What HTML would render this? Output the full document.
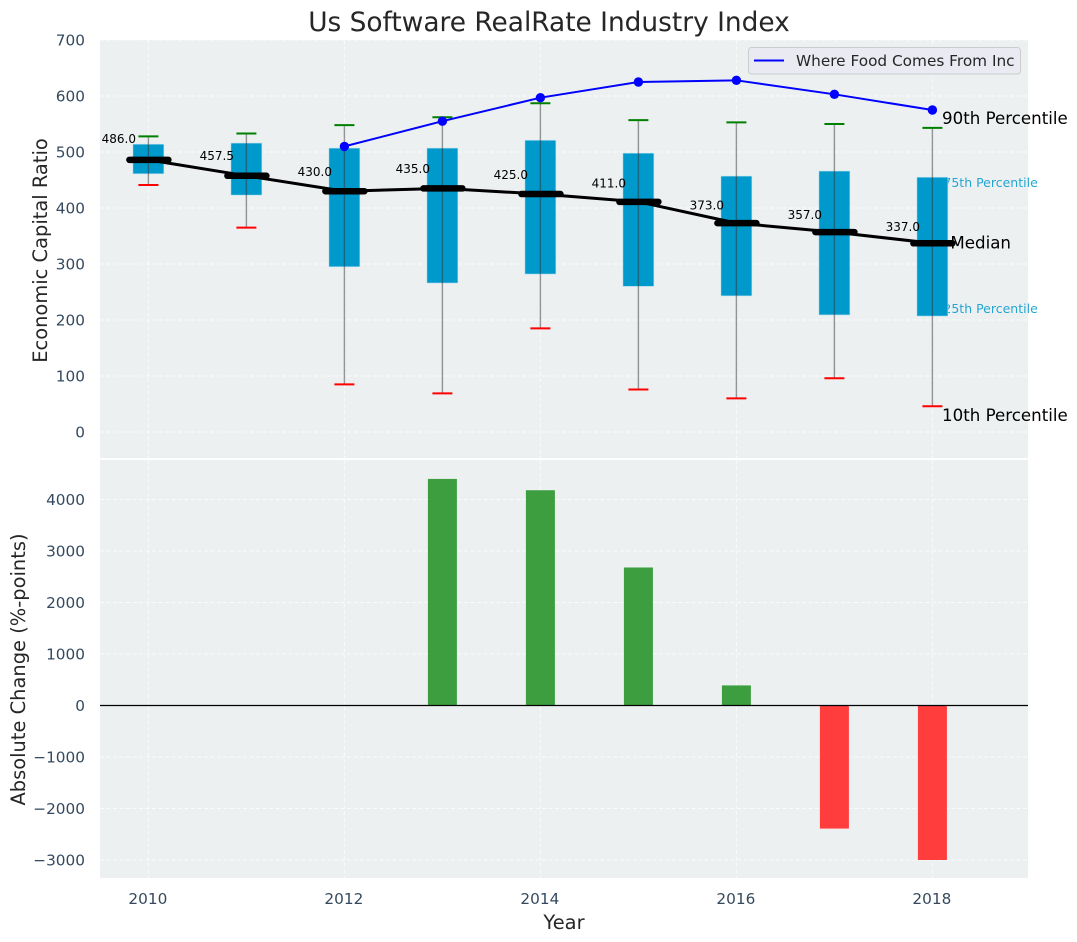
<!DOCTYPE html>
<html lang="en">
<head>
<meta charset="utf-8">
<title>Us Software RealRate Industry Index</title>
<style>
html,body{margin:0;padding:0;background:#fff;width:1077px;height:942px;overflow:hidden}
svg{display:block}
text{font-family:"DejaVu Sans","Liberation Sans",sans-serif}
</style>
</head>
<body>
<svg id="chart" xmlns="http://www.w3.org/2000/svg" width="1077" height="942" viewBox="0 0 1077 942"></svg>
<script>
const years = [2010, 2011, 2012, 2013, 2014, 2015, 2016, 2017, 2018];
const p90 = [528, 533, 548, 562, 587, 557, 553, 550, 543];
const q3 = [514, 516, 507, 507, 521, 498, 457, 466, 455];
const medians = [486, 457.5, 430, 435, 425, 411, 373, 357, 337];
const q1 = [461, 423, 295, 266, 282, 260, 243, 209, 207];
const p10 = [441, 365, 85, 69, 185, 76, 60, 96, 46];
const companyYears = [2012, 2013, 2014, 2015, 2016, 2017, 2018];
const companyValues = [510, 555, 597, 625, 628, 603, 575];
const changeYears = [2013, 2014, 2015, 2016, 2017, 2018];
const changeValues = [4400, 4180, 2680, 390, -2390, -3000];
const xTicks = [2010, 2012, 2014, 2016, 2018];
const xGridYears = [2010, 2012, 2014, 2016, 2018];
const topTicks = [0, 100, 200, 300, 400, 500, 600, 700];
const bottomTicks = [-3000, -2000, -1000, 0, 1000, 2000, 3000, 4000];

const svg = document.getElementById('chart');
const NS = 'http://www.w3.org/2000/svg';
const L = 100, R = 1028, T1 = 40, B1 = 458, T2 = 460, B2 = 878;
const X = v => 148.4 + (v - 2010) * 98;
const Y1 = v => 432 - v * 0.56;
const Y2 = v => 705.5 - v * 0.0515;

function add(tag, attrs, parent) {
  const el = document.createElementNS(NS, tag);
  for (const k in attrs) el.setAttribute(k, attrs[k]);
  (parent || svg).appendChild(el);
  return el;
}
function fmt(v) { return v < 0 ? '\u2212' + Math.abs(v) : String(v); }

let el;
el = add('rect', {x: L, y: T1, width: R - L, height: B1 - T1, fill: '#ecf0f1'});


el = add('rect', {x: L, y: T2, width: R - L, height: B2 - T2, fill: '#ecf0f1'});



const gridStyle = {stroke: '#ffffff', 'stroke-width': 1, 'stroke-dasharray': '4 2.5', 'stroke-opacity': 0.75, fill: 'none'};
xGridYears.forEach(y => {
  el = add('line', Object.assign({x1: X(y), x2: X(y), y1: T1, y2: B1}, gridStyle));
  
  
  el = add('line', Object.assign({x1: X(y), x2: X(y), y1: T2, y2: B2}, gridStyle));
  
  
});
topTicks.forEach(t => {
  el = add('line', Object.assign({x1: L, x2: R, y1: Y1(t), y2: Y1(t)}, gridStyle));
  
  
  el = add('text', {x: 85, y: Y1(t) + 5.5, 'text-anchor': 'end', 'font-size': 15.3, fill: '#34495e'});
  el.textContent = fmt(t);
  
  
});
bottomTicks.forEach(t => {
  el = add('line', Object.assign({x1: L, x2: R, y1: Y2(t), y2: Y2(t)}, gridStyle));
  
  
  el = add('text', {x: 85, y: Y2(t) + 5.5, 'text-anchor': 'end', 'font-size': 15.3, fill: '#34495e'});
  el.textContent = fmt(t);
  
  
});
xTicks.forEach(t => {
  el = add('text', {x: X(t) - 0.5, y: 904, 'text-anchor': 'middle', 'font-size': 15.3, fill: '#34495e'});
  el.textContent = String(t);
  
  
});

const lastI = years.length - 1;
const lastX = X(years[lastI]);
el = add('text', {x: lastX + 11, y: Y1(q3[lastI]) + 10, 'font-size': 12.5, fill: '#0099cc', 'fill-opacity': 0.85});
el.textContent = '75th Percentile';


el = add('text', {x: lastX + 11, y: Y1(q1[lastI]) - 3, 'font-size': 12.5, fill: '#0099cc', 'fill-opacity': 0.85});
el.textContent = '25th Percentile';



years.forEach((y, i) => {
  el = add('rect', {x: X(y) - 15.5, y: Y1(q3[i]), width: 31, height: Y1(q1[i]) - Y1(q3[i]), fill: '#0099cc', stroke: '#bfe3ef', 'stroke-width': 0.6});
  
  
  el = add('line', {x1: X(y), x2: X(y), y1: Y1(p90[i]), y2: Y1(p10[i]), stroke: '#333333', 'stroke-opacity': 0.5, 'stroke-width': 1.4});
  
  
  el = add('line', {x1: X(y) - 10, x2: X(y) + 10, y1: Y1(p90[i]), y2: Y1(p90[i]), stroke: '#008000', 'stroke-width': 2});
  
  
  el = add('line', {x1: X(y) - 10, x2: X(y) + 10, y1: Y1(p10[i]), y2: Y1(p10[i]), stroke: '#ff0000', 'stroke-width': 2});
  
  
});

el = add('polyline', {points: years.map((y, i) => X(y) + ',' + Y1(medians[i])).join(' '), fill: 'none', stroke: '#000000', 'stroke-width': 3});


years.forEach((y, i) => {
  el = add('line', {x1: X(y) - 19, x2: X(y) + 20, y1: Y1(medians[i]), y2: Y1(medians[i]), stroke: '#000000', 'stroke-width': 6.5, 'stroke-linecap': 'round'});
  
  
  el = add('text', {x: X(y) - 12.4, y: Y1(medians[i] * 1.05) - 3, 'text-anchor': 'end', 'font-size': 12, fill: '#000000'});
  el.textContent = medians[i].toFixed(1);
  
  
});

el = add('polyline', {points: companyYears.map((y, i) => X(y) + ',' + Y1(companyValues[i])).join(' '), fill: 'none', stroke: '#0000ff', 'stroke-width': 2});


companyYears.forEach((y, i) => {
  el = add('circle', {cx: X(y), cy: Y1(companyValues[i]), r: 4.7, fill: '#0000ff'});
  
  
});

el = add('text', {x: lastX + 9.6, y: Y1(p90[lastI]) - 4, 'font-size': 16.67, fill: '#000000'});
el.textContent = '90th Percentile';


el = add('text', {x: lastX + 18, y: Y1(medians[lastI]) + 5, 'font-size': 16.67, fill: '#000000'});
el.textContent = 'Median';


el = add('text', {x: lastX + 9.6, y: Y1(p10[lastI]) + 15, 'font-size': 16.67, fill: '#000000'});
el.textContent = '10th Percentile';



changeYears.forEach((y, i) => {
  const v = changeValues[i];
  const top = Math.min(Y2(v), Y2(0));
  el = add('rect', {x: X(y) - 14.5, y: top, width: 29, height: Math.abs(Y2(v) - Y2(0)), fill: v >= 0 ? '#3d9e40' : '#ff3d3d'});
  
  
});
el = add('line', {x1: L, x2: R, y1: Y2(0), y2: Y2(0), stroke: '#000000', 'stroke-width': 1.3});



el = add('rect', {x: 748.5, y: 47.5, width: 272, height: 26.5, rx: 3, fill: '#eaeaf2', 'fill-opacity': 0.9, stroke: '#cccccc'});


el = add('line', {x1: 754, x2: 784, y1: 60.5, y2: 60.5, stroke: '#0000ff', 'stroke-width': 2});


el = add('text', {x: 796, y: 66, 'font-size': 15.3, fill: '#262626'});
el.textContent = 'Where Food Comes From Inc';



el = add('text', {x: 549, y: 31, 'text-anchor': 'middle', 'font-size': 26.4, fill: '#262626'});
el.textContent = 'Us Software RealRate Industry Index';


el = add('text', {x: 564, y: 929, 'text-anchor': 'middle', 'font-size': 19.44, fill: '#262626'});
el.textContent = 'Year';


el = add('text', {transform: 'translate(47,250.5) rotate(-90)', 'text-anchor': 'middle', 'font-size': 19.44, fill: '#262626'});
el.textContent = 'Economic Capital Ratio';


el = add('text', {transform: 'translate(25,669.5) rotate(-90)', 'text-anchor': 'middle', 'font-size': 19.44, fill: '#262626'});
el.textContent = 'Absolute Change (%-points)';


</script>
</body>
</html>
